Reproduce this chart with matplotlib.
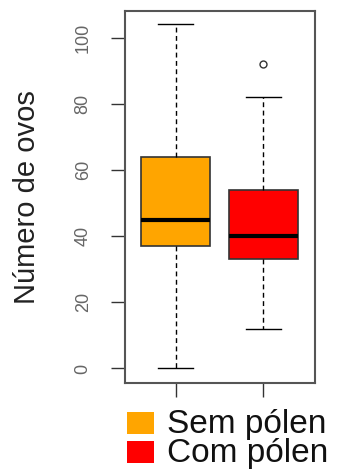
import matplotlib
matplotlib.use("Agg")
import matplotlib.pyplot as plt
from matplotlib.patches import Rectangle

# data
groups = ["Sem pólen", "Com pólen"]
colors = ["#FFA500", "#FF0000"]
whisker_low = [0, 12]
q1 = [37, 33]
medians = [45, 40]
q3 = [64, 54]
whisker_high = [104, 82]
outliers = [[], [92]]
yticks = [0, 20, 40, 60, 80, 100]

plt.rcParams['font.family'] = ['Liberation Sans', 'DejaVu Sans']

fig = plt.figure(figsize=(3.38, 4.70), dpi=100)
ax = fig.add_axes([0.370, 0.185, 0.562, 0.792])

stats = []
for i, g in enumerate(groups):
    stats.append({
        'label': g, 'whislo': whisker_low[i], 'q1': q1[i], 'med': medians[i],
        'q3': q3[i], 'whishi': whisker_high[i], 'fliers': outliers[i],
    })

bp = ax.bxp(stats, positions=[1, 2], widths=0.79, patch_artist=True,
            showfliers=True,
            boxprops=dict(edgecolor='#333333', linewidth=1.2),
            medianprops=dict(color='black', linewidth=3),
            whiskerprops=dict(color='black', linestyle=(0, (3.5, 2.5)), linewidth=1),
            capprops=dict(color='black', linewidth=1),
            flierprops=dict(marker='o', markerfacecolor='none',
                            markeredgecolor='#333333', markersize=5, markeredgewidth=1))
for patch, c in zip(bp['boxes'], colors):
    patch.set_facecolor(c)
for cap in bp['caps']:
    x0, x1 = cap.get_xdata()
    mid = (x0 + x1) / 2
    cap.set_xdata([mid - 0.2, mid + 0.2])

ax.set_xlim(0.42, 2.59)
ax.set_ylim(-4.4, 108.1)
ax.set_yticks(yticks)
ax.set_yticklabels([str(t) for t in yticks], rotation=90, va='center',
                   fontsize=13, color='#666666')
ax.set_xticks([1, 2])
ax.set_xticklabels([])
ax.tick_params(axis='y', length=10, width=1, color='#333333', pad=14)
ax.tick_params(axis='x', length=10, width=1, color='#333333')
for s in ax.spines.values():
    s.set_color('#555555')
    s.set_linewidth(1.5)

ax.set_ylabel("Número de ovos", fontsize=21, color='#222222', labelpad=24)

# legend below the plot (baseline-anchored so descenders stay inside)
for i, (g, c) in enumerate(zip(groups, colors)):
    base = 0.0787 - i * 0.0617
    fig.add_artist(Rectangle((0.375, base - 0.002), 0.080, 0.046,
                             transform=fig.transFigure, facecolor=c, edgecolor='none'))
    fig.text(0.495, base, g, fontsize=24, color='#111111', va='baseline', ha='left')

plt.savefig("out.png", dpi=100)
plt.close()
